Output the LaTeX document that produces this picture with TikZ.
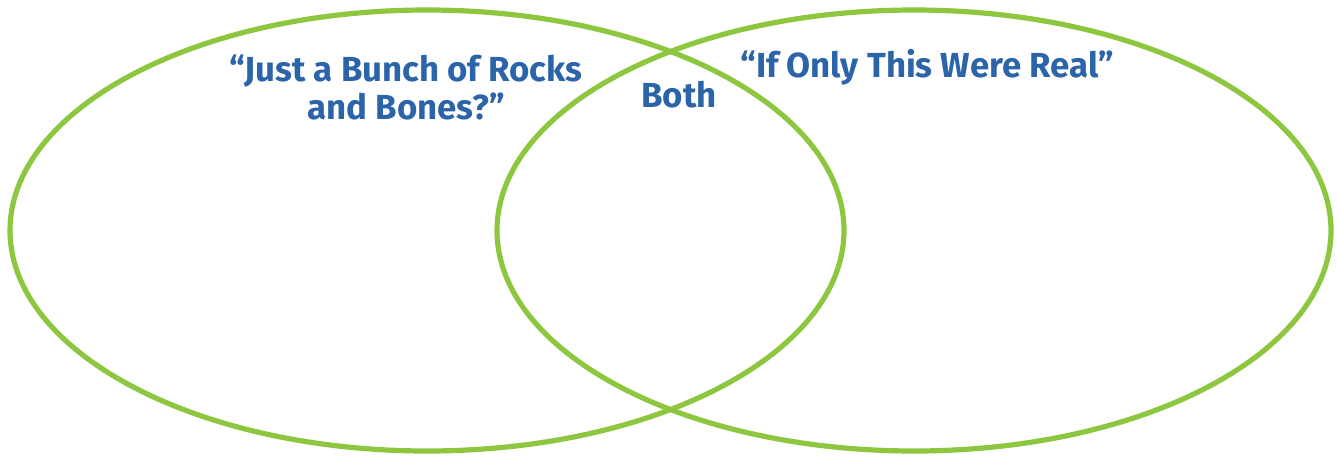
\documentclass[tikz,border=0pt]{standalone}
\usepackage{fontspec}
\setmainfont{Fira Sans}
\definecolor{leaf}{RGB}{141,198,63}
\definecolor{ink}{RGB}{43,100,168}
\usetikzlibrary{shapes.geometric}
\tikzset{
  ring/.style={draw=leaf, ellipse, line width=2.6pt, inner sep=0pt,
               minimum width=417pt, minimum height=220.5pt},
  head/.style={text=ink, font=\fontsize{17.4}{19}\selectfont\bfseries, align=center, inner sep=0pt},
}

\begin{document}
\begin{tikzpicture}[x=0.5pt,y=-0.5pt]
        \useasboundingbox (0,0) rectangle (1338,456);
        \node[ring] (left) at (427,230.5) {};
        \node[ring] (right) at (914,230.5) {};
        \node[head] (rocks) at (406,87) {``Just a Bunch of Rocks\\and Bones?''};
        \node[head] (both) at (679,95) {Both};
        \node[head] (real) at (927,67) {``If Only This Were Real''};
      \end{tikzpicture}
\end{document}
